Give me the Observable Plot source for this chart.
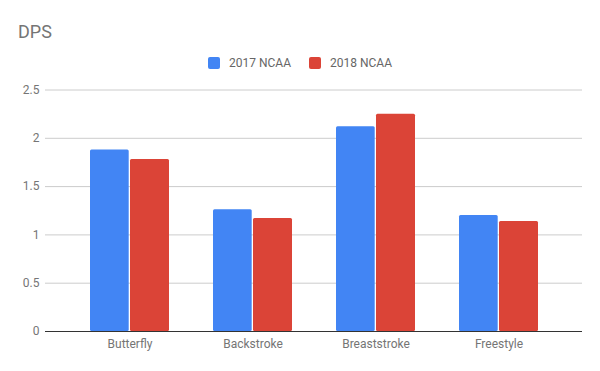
<!DOCTYPE html>
<html>
<head>
<meta charset="utf-8">
<script src="https://cdn.jsdelivr.net/npm/d3@7"></script>
<script src="https://cdn.jsdelivr.net/npm/@observablehq/plot@0.6"></script>
<style>
  html, body { margin: 0; padding: 0; background: #fff; }
  body { width: 600px; height: 371px; overflow: hidden; font-family: Roboto, sans-serif; }
  #header { position: relative; height: 75px; }
  #title { position: absolute; left: 18px; top: 23px; font-size: 18px; line-height: 18px; color: #757575; }
  #legend { position: absolute; left: 0; top: 57px; width: 600px; height: 12px; display: flex; justify-content: center; align-items: center; font-size: 12px; line-height: 12px; color: #666; }
  .item { display: flex; align-items: center; margin: 0 9px; }
  .swatch { width: 12px; height: 12px; border-radius: 2px; margin-right: 9px; }
  svg { display: block; }
</style>
</head>
<body>
<div id="header">
  <div id="title"></div>
  <div id="legend"></div>
</div>
<div id="chart"></div>
<script>
const title = "DPS";
const categories = ["Butterfly", "Backstroke", "Breaststroke", "Freestyle"];
const series = ["2017 NCAA", "2018 NCAA"];
const values2017 = [1.88, 1.26, 2.12, 1.20];
const values2018 = [1.78, 1.17, 2.25, 1.14];
const colors = ["#4285F4", "#DB4437"];
const yTicks = [0, 0.5, 1, 1.5, 2, 2.5];

document.getElementById("title").textContent = title;
const legend = document.getElementById("legend");
series.forEach((s, i) => {
  const item = document.createElement("div");
  item.className = "item";
  const sw = document.createElement("div");
  sw.className = "swatch";
  sw.style.background = colors[i];
  const label = document.createElement("span");
  label.textContent = s;
  item.appendChild(sw);
  item.appendChild(label);
  legend.appendChild(item);
});

const rows2017 = categories.map((c, i) => ({category: c, series: series[0], value: values2017[i]}));
const rows2018 = categories.map((c, i) => ({category: c, series: series[1], value: values2018[i]}));

const chart = Plot.plot({
  width: 600,
  height: 296,
  marginTop: 14.5,
  marginBottom: 40,
  marginLeft: 45,
  marginRight: 18,
  style: {fontFamily: "Roboto, sans-serif", fontSize: "12px", color: "#757575", background: "transparent"},
  x: {domain: categories, padding: 0.36, label: null, tickSize: 0, tickPadding: 8},
  y: {domain: [0, 2.5], ticks: yTicks, tickFormat: d => String(d), tickSize: 0, tickPadding: 6, label: null},
  marks: [
    Plot.ruleY(yTicks.filter(t => t !== 0), {stroke: "#cccccc"}),
    Plot.barY(rows2017, {x: "category", y: "value", fill: colors[0], insetRight: 40.3, rx: 1.5}),
    Plot.barY(rows2018, {x: "category", y: "value", fill: colors[1], insetLeft: 40, rx: 1.5}),
    Plot.ruleY([0], {stroke: "#333333"})
  ]
});
document.getElementById("chart").appendChild(chart);
</script>
</body>
</html>
